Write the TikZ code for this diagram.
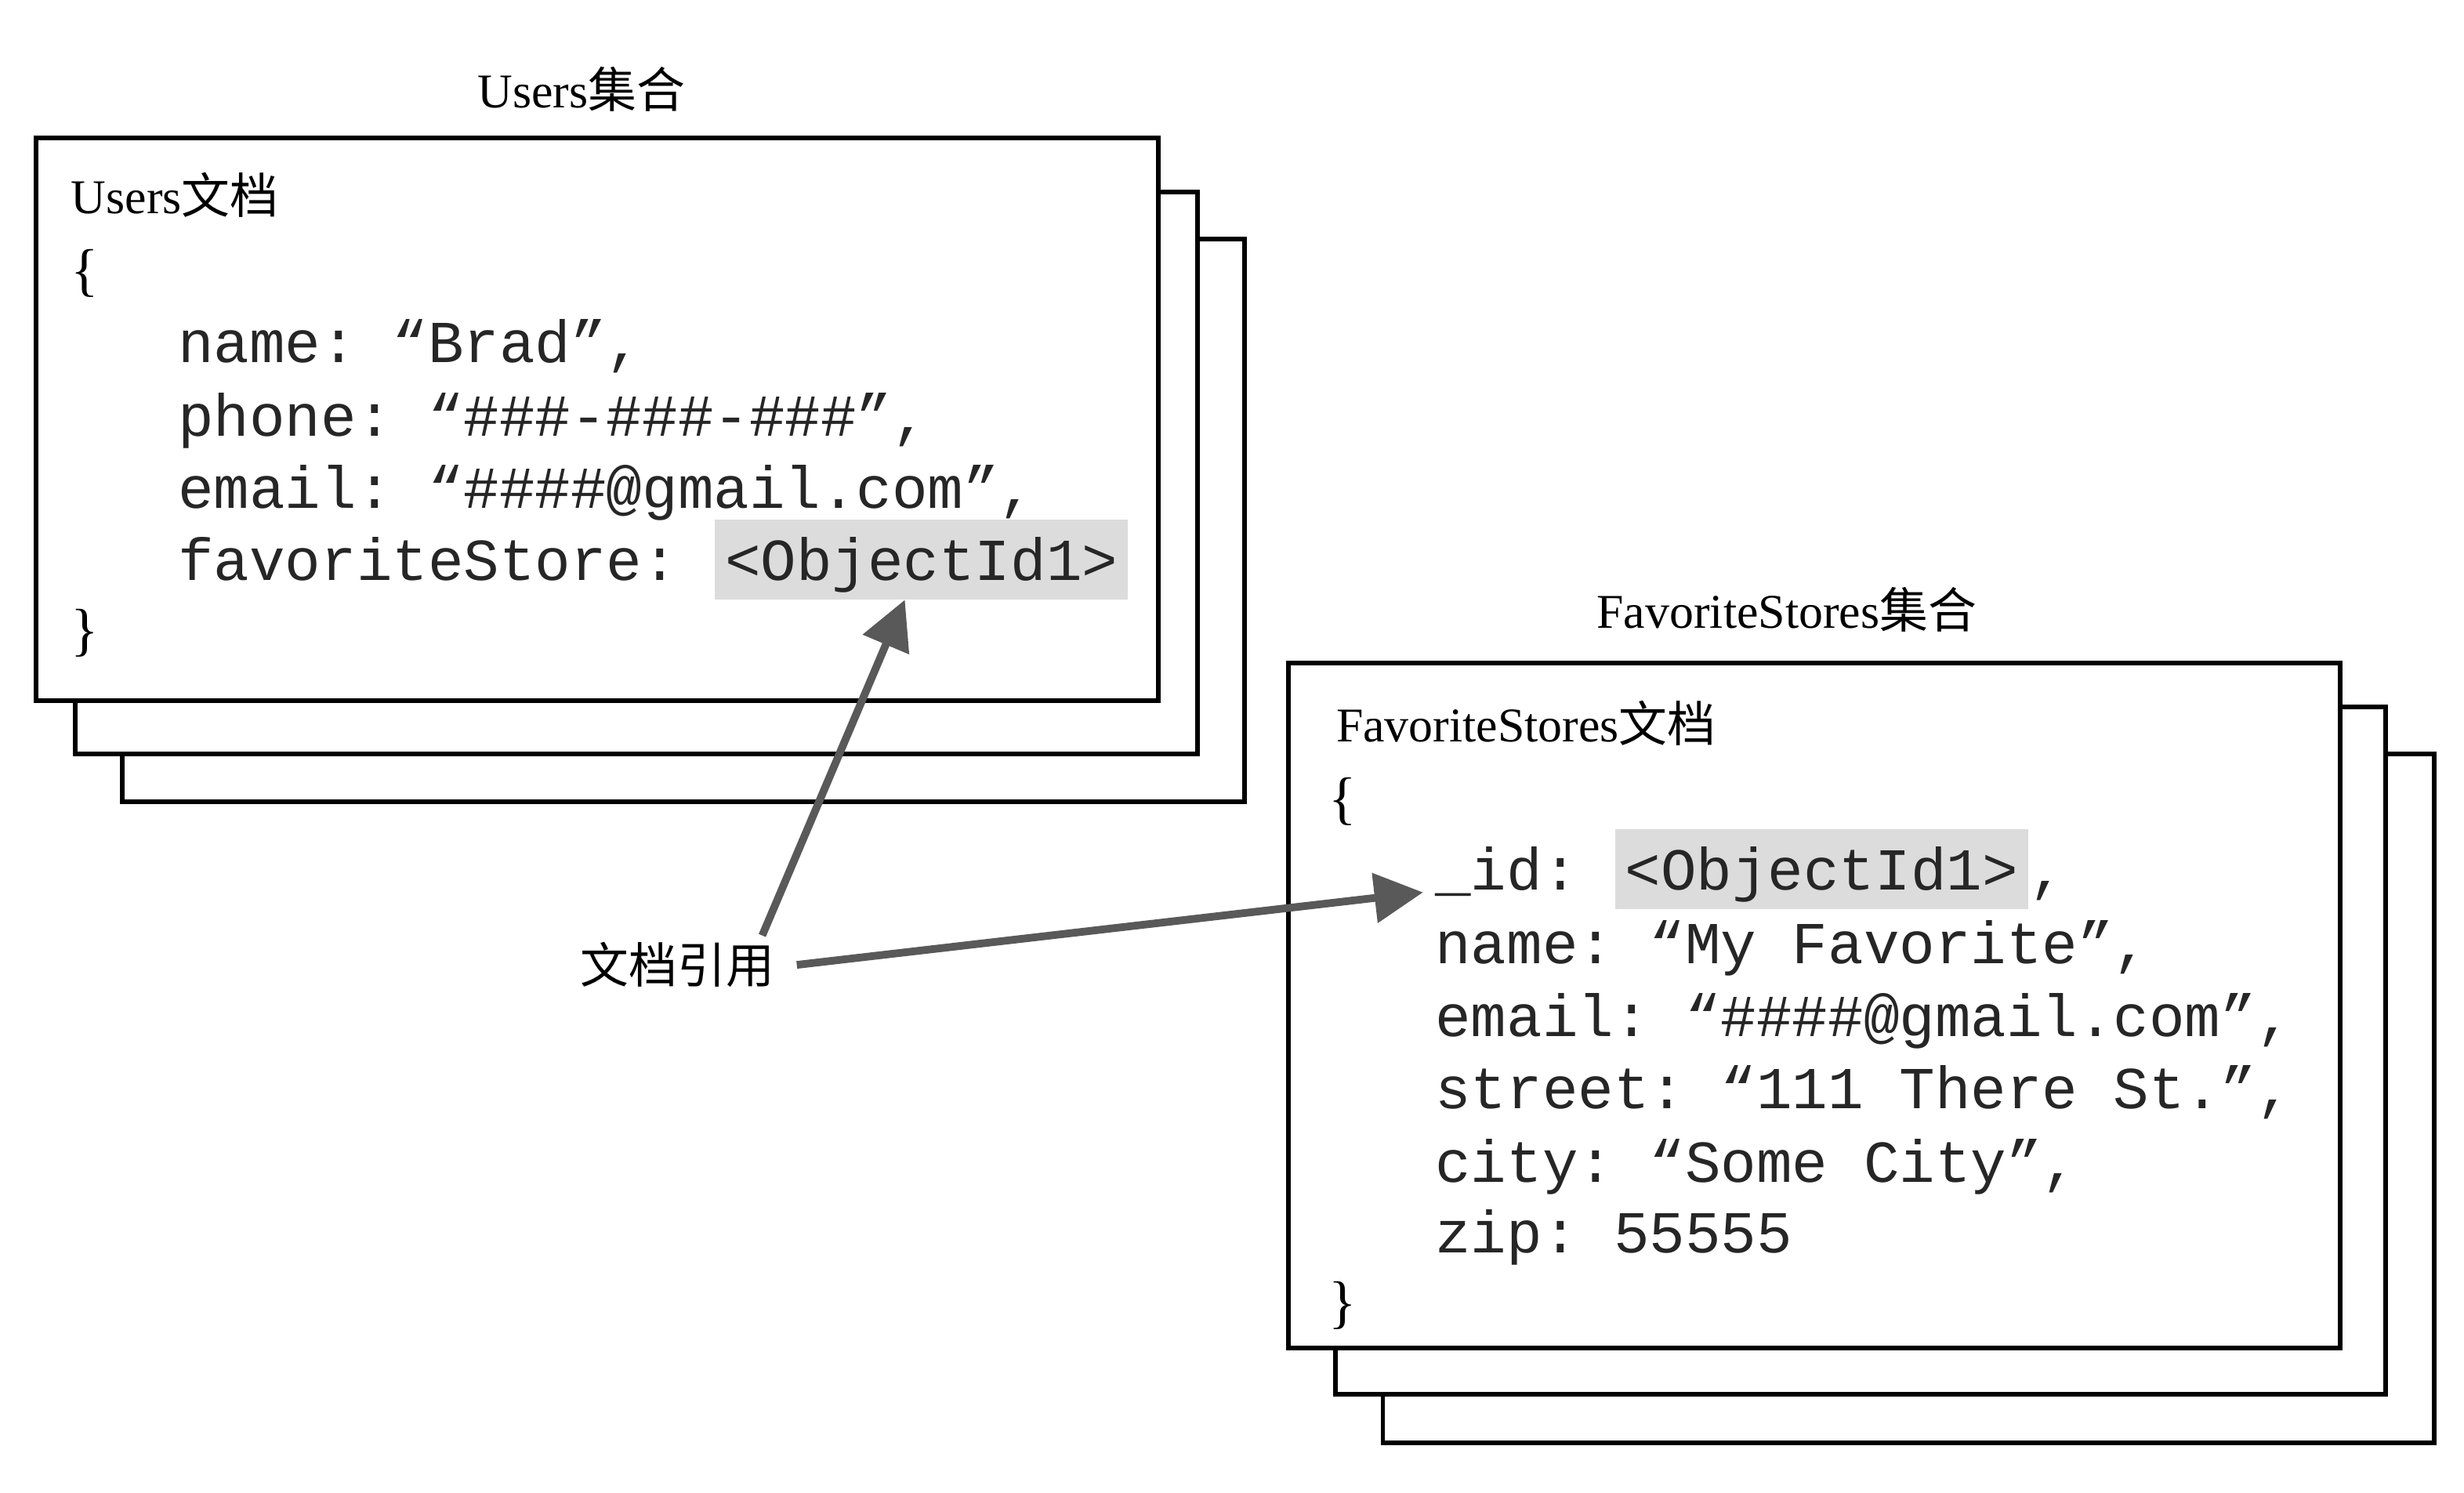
\documentclass[tikz,border=0pt]{standalone}
\usepackage{fontspec}
\setmainfont{Liberation Serif}
\setmonofont{Liberation Mono}
\newfontfamily\cjk{Noto Sans CJK SC}
\usetikzlibrary{arrows.meta,positioning,calc}
\definecolor{idgray}{HTML}{DCDCDC}
\definecolor{refgray}{HTML}{595959}

\begin{document}
\begin{tikzpicture}[x=0.02005cm,y=-0.02005cm,
  doclabel/.style={inner sep=0pt,font=\fontsize{17.6}{20}\selectfont},
  brace/.style={doclabel,anchor=west,font=\fontsize{21}{24}\selectfont},
  code/.style={inner sep=0pt,anchor=west,text height=19.6pt,text depth=4.3pt,
    text=black!85,font=\ttfamily\fontsize{21.6}{26}\selectfont},
  idbox/.style={code,fill=idgray,inner xsep=0.13cm,inner ysep=2.5pt},
  refarrow/.style={-{Triangle[length=0.62cm,width=0.62cm]},refgray,line width=2.8pt}]
\useasboundingbox (0,0) rectangle (1568,949.6);

\filldraw[fill=white,line width=1.7pt] (78,152) rectangle (792,510);
\filldraw[fill=white,line width=1.7pt] (48,122) rectangle (762,480);
\filldraw[fill=white,line width=1.7pt] (23,88) rectangle (737,446);

\filldraw[fill=white,line width=1.7pt] (880,480) rectangle (1549,918);
\filldraw[fill=white,line width=1.7pt] (850,450) rectangle (1518,887);
\filldraw[fill=white,line width=1.7pt] (820,422) rectangle (1489,858);

\node[doclabel] (ucoll) at (370,57) {Users{\cjk 集合}};
\node[doclabel,anchor=west] (udoc) at (45,124) {Users{\cjk 文档}};
\node[brace] (uopen) at (45,174) {\{};
\node[code] (uname) at (113,217) {name: “Brad”,};
\node[code] (uphone) at (113,264) {phone: “\#\#\#-\#\#\#-\#\#\#”,};
\node[code] (uemail) at (113,310) {email: “\#\#\#\#@gmail.com”,};
\node[code] (ufav) at (113,356) {favoriteStore:\ \null};
\node[idbox,right=0pt of ufav] (uid) {<ObjectId1>};
\node[brace] (uclose) at (45,403) {\}};

\node[doclabel] (fcoll) at (1137,388) {FavoriteStores{\cjk 集合}};
\node[doclabel,anchor=west] (fdoc) at (850,460) {FavoriteStores{\cjk 文档}};
\node[brace] (fopen) at (845,510) {\{};
\node[code] (fid) at (913,553) {\_id:\ \null};
\node[idbox,right=0pt of fid] (fidval) {<ObjectId1>};
\node[code,right=0pt of fidval] (fcomma) {,};
\node[code] (fname) at (913,600) {name: “My Favorite”,};
\node[code] (femail) at (913,646) {email: “\#\#\#\#@gmail.com”,};
\node[code] (fstreet) at (913,692) {street: “111 There St.”,};
\node[code] (fcity) at (913,739) {city: “Some City”,};
\node[code] (fzip) at (913,784) {zip: 55555};
\node[brace] (fclose) at (845,831) {\}};

\node[doclabel] (ref) at (431,614) {\cjk 文档引用};

\draw[refarrow] ($(ref.north east)+(-8,-4)$) -- ([xshift=-6pt]uid.south);
\draw[refarrow,shorten >=0.15cm] ($(ref.east)+(14,0)$) -- ($(fid.west)+(0,14)$);
\end{tikzpicture}
\end{document}
